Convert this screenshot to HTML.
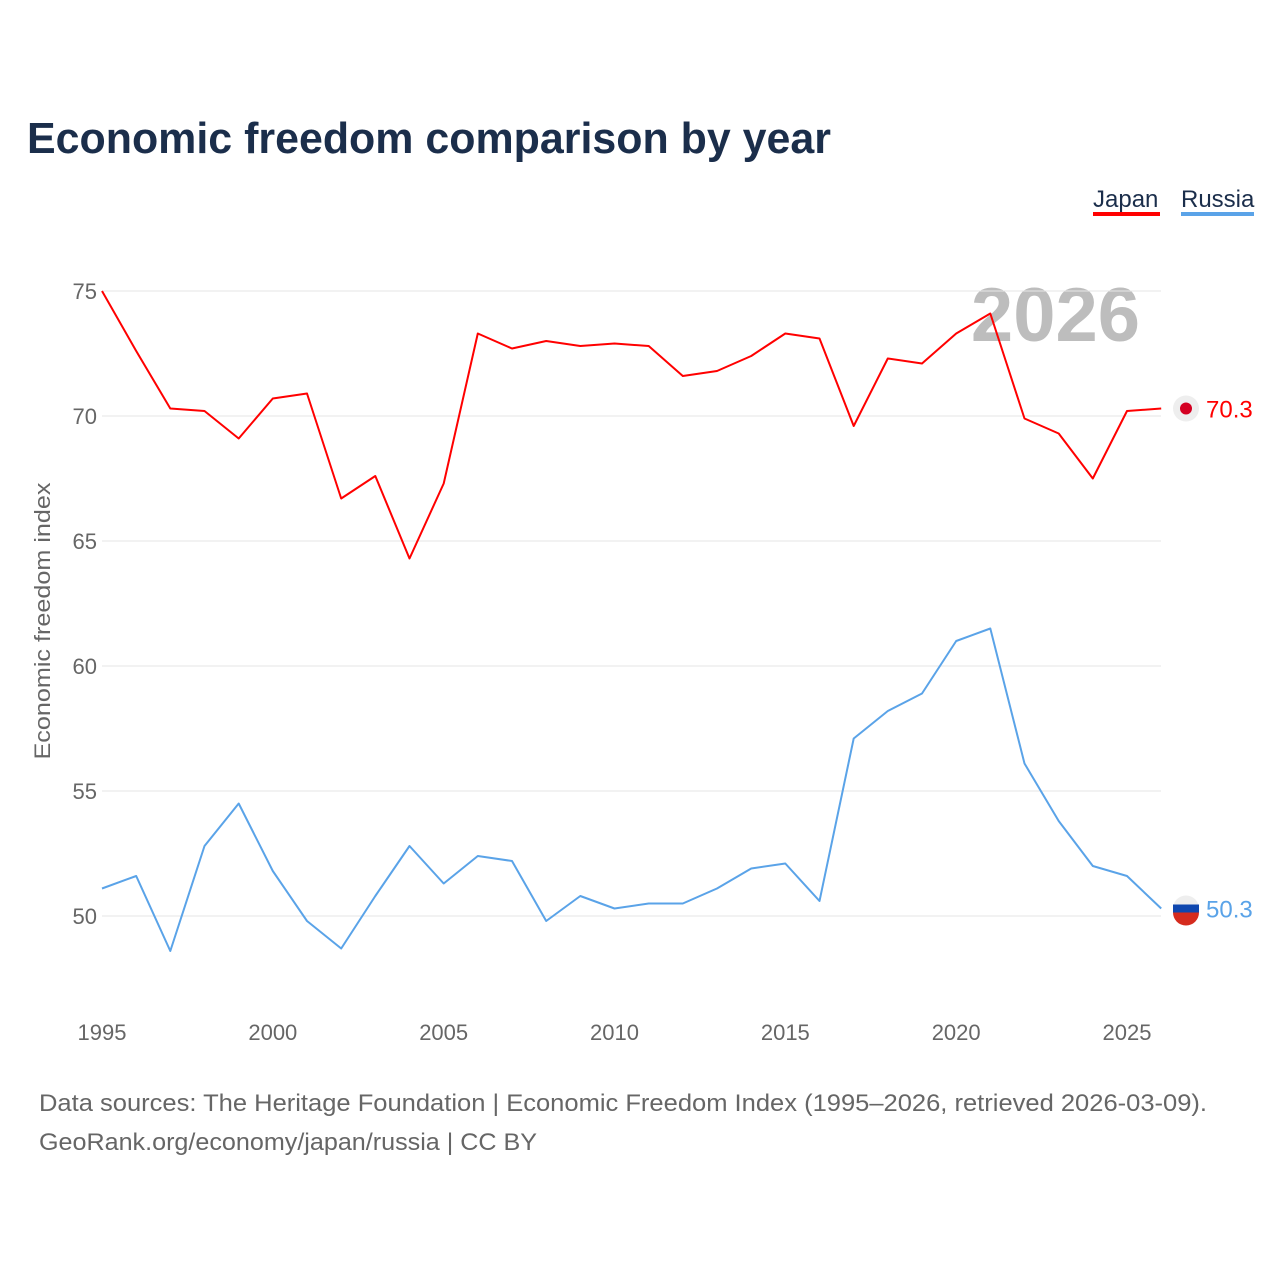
<!DOCTYPE html>
<html><head><meta charset="utf-8">
<style>
html,body{margin:0;padding:0;background:#fff;}
body{width:1280px;height:1280px;overflow:hidden;font-family:"Liberation Sans",sans-serif;}
</style></head>
<body>
<svg id="chart" width="1280" height="1280" xmlns="http://www.w3.org/2000/svg" font-family="Liberation Sans, sans-serif">
  <text x="27" y="153" font-size="44" font-weight="bold" fill="#1b2e4b" textLength="804" lengthAdjust="spacingAndGlyphs">Economic freedom comparison by year</text>
  <g>
    <text x="1093" y="207" font-size="24" fill="#1b2e4b">Japan</text>
    <rect x="1093" y="212" width="67" height="4" fill="#ff0000"/>
    <text x="1181" y="207" font-size="24" fill="#1b2e4b">Russia</text>
    <rect x="1181" y="212" width="73" height="4" fill="#5aa3e8"/>
  </g>
  <text x="1140" y="341" text-anchor="end" font-size="76" font-weight="bold" fill="#bdbdbd">2026</text>
  <text transform="translate(50,621) rotate(-90)" text-anchor="middle" font-size="22" fill="#666" textLength="277" lengthAdjust="spacingAndGlyphs">Economic freedom index</text>
  <g id="grid"></g>
  <g id="xticks"></g>
  <g id="series"></g>
  <text x="39" y="1111" font-size="24" fill="#666" textLength="1168" lengthAdjust="spacingAndGlyphs">Data sources: The Heritage Foundation | Economic Freedom Index (1995–2026, retrieved 2026-03-09).</text>
  <text x="39" y="1150" font-size="24" fill="#666" textLength="498" lengthAdjust="spacingAndGlyphs">GeoRank.org/economy/japan/russia | CC BY</text>
</svg>
<script>
const years = [1995,1996,1997,1998,1999,2000,2001,2002,2003,2004,2005,2006,2007,2008,2009,2010,2011,2012,2013,2014,2015,2016,2017,2018,2019,2020,2021,2022,2023,2024,2025,2026];
const japan = [75.0,72.6,70.3,70.2,69.1,70.7,70.9,66.7,67.6,64.3,67.3,73.3,72.7,73.0,72.8,72.9,72.8,71.6,71.8,72.4,73.3,73.1,69.6,72.3,72.1,73.3,74.1,69.9,69.3,67.5,70.2,70.3];
const russia = [51.1,51.6,48.6,52.8,54.5,51.8,49.8,48.7,50.8,52.8,51.3,52.4,52.2,49.8,50.8,50.3,50.5,50.5,51.1,51.9,52.1,50.6,57.1,58.2,58.9,61.0,61.5,56.1,53.8,52.0,51.6,50.3];
const yTicks = [50,55,60,65,70,75];
const xTicks = [1995,2000,2005,2010,2015,2020,2025];

const NS = "http://www.w3.org/2000/svg";
const x = v => 102 + (v - 1995) * (1025/30);
const y = v => 416 - (v - 70) * 25;
function mk(tag, attrs, parent){const e=document.createElementNS(NS,tag);for(const k in attrs)e.setAttribute(k,attrs[k]);parent.appendChild(e);return e;}

const grid = document.getElementById('grid');
yTicks.forEach(t=>{
  const l = mk('line',{x1:102,x2:1161,y1:y(t),y2:y(t),stroke:'#e6e6e6','stroke-width':1},grid);
  
  
  const tx = mk('text',{x:97,y:y(t)+8,'text-anchor':'end','font-size':22,fill:'#666'},grid);
  tx.textContent = t;
  
  
});
const xg = document.getElementById('xticks');
xTicks.forEach(t=>{
  const tx = mk('text',{x:x(t),y:1040,'text-anchor':'middle','font-size':22,fill:'#666'},xg);
  tx.textContent = t;
  
  
});

const sg = document.getElementById('series');
function line(vals,color,name){
  const d = vals.map((v,i)=>(i?'L':'M')+x(years[i]).toFixed(1)+','+y(v).toFixed(1)).join(' ');
  const p = mk('path',{d:d,fill:'none',stroke:color,'stroke-width':2,'stroke-linejoin':'round'},sg);
  
  
  const last = vals[vals.length-1];
  const ey = y(last);
  const c = mk('circle',{cx:1186,cy:ey,r:13,fill:'#eee'},sg);
  
  
  return {ey,last};
}
const j = line(japan,'#ff0000','japan');
const jd = mk('circle',{cx:1186,cy:j.ey,r:6,fill:'#d40022'},sg);


const jl = mk('text',{x:1206,y:j.ey+9,'font-size':24,fill:'#ff0000'},sg);
jl.textContent = j.last.toFixed(1);



const r = line(russia,'#5aa3e8','russia');
const rb = mk('path',{d:`M1173,${r.ey-4} h26 v8 h-26 z`,fill:'#0f47af'},sg);


const rr = mk('path',{d:`M1173,${r.ey+4} h26 a13,13 0 0 1 -26,0 z`,fill:'#d52b1e'},sg);


const rl = mk('text',{x:1206,y:r.ey+9,'font-size':24,fill:'#5aa3e8'},sg);
rl.textContent = r.last.toFixed(1);


</script>
</body></html>
